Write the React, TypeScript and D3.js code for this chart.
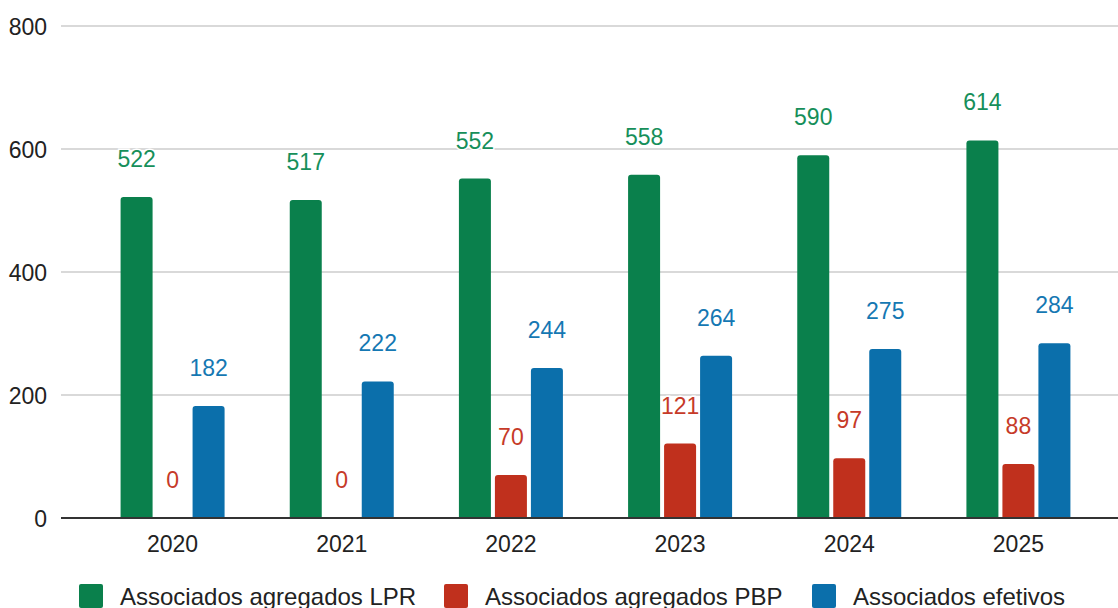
import React, { useRef, useEffect } from 'react';
import * as d3 from 'd3';

const years = ['2020', '2021', '2022', '2023', '2024', '2025'];
const seriesNames = ['Associados agregados LPR', 'Associados agregados PBP', 'Associados efetivos'];
const lpr = [522, 517, 552, 558, 590, 614];
const pbp = [0, 0, 70, 121, 97, 88];
const efetivos = [182, 222, 244, 264, 275, 284];
const yTicks = [0, 200, 400, 600, 800];

const barColors = ['#0a804c', '#c0301d', '#0b6fab'];
const labelColors = ['#168f5a', '#c63a28', '#1578b3'];

export default function App() {
  const svgRef = useRef<SVGSVGElement | null>(null);

  useEffect(() => {
    const width = 1118, height = 608;
    const svg = d3.select(svgRef.current);
    svg.selectAll('*').remove();

    const font = 'Liberation Sans, Arial, sans-serif';
    const values = [lpr, pbp, efetivos];

    const y = d3.scaleLinear().domain([0, 800]).range([518, 26]);
    const x0 = d3.scaleBand().domain(years).range([88, 1103]);
    const x1 = d3.scaleBand().domain(['0', '1', '2']).range([-52, 52]).paddingInner(0.111);

    // grid
    svg.append('g')
      .selectAll('line')
      .data(yTicks.filter(t => t > 0))
      .enter().append('line')
      .attr('x1', 61).attr('x2', width)
      .attr('y1', d => y(d)).attr('y2', d => y(d))
      .attr('stroke', '#cccccc').attr('stroke-width', 1.5);

    svg.append('g')
      .selectAll('text')
      .data(yTicks)
      .enter().append('text')
      .attr('x', 47).attr('y', d => y(d) + 9)
      .attr('text-anchor', 'end')
      .attr('font-family', font).attr('font-size', 23).attr('fill', '#222')
      .text(d => d);

    // bars
    values.forEach((vals, s) => {
      const g = svg.append('g');
      vals.forEach((v, i) => {
        const xl = x0(years[i])! + x0.bandwidth() / 2 + x1(String(s))!;
        const w = x1.bandwidth();
        const top = y(v), h = y(0) - top;
        if (h > 0) {
          const r = Math.min(3, h);
          const p = d3.path();
          p.moveTo(xl, y(0));
          p.lineTo(xl, top + r);
          p.quadraticCurveTo(xl, top, xl + r, top);
          p.lineTo(xl + w - r, top);
          p.quadraticCurveTo(xl + w, top, xl + w, top + r);
          p.lineTo(xl + w, y(0));
          p.closePath();
          g.append('path').attr('d', p.toString()).attr('fill', barColors[s]);
        }
        g.append('text')
          .attr('x', xl + w / 2).attr('y', top - 30)
          .attr('text-anchor', 'middle')
          .attr('font-family', font).attr('font-size', 23)
          .attr('fill', labelColors[s])
          .attr('stroke', '#fff').attr('stroke-width', 3).attr('paint-order', 'stroke')
          .text(v);
      });
    });

    // baseline
    svg.append('line')
      .attr('x1', 61).attr('x2', width)
      .attr('y1', y(0)).attr('y2', y(0))
      .attr('stroke', '#333').attr('stroke-width', 2);

    // x labels
    svg.append('g')
      .selectAll('text')
      .data(years)
      .enter().append('text')
      .attr('x', d => x0(d)! + x0.bandwidth() / 2)
      .attr('y', 552)
      .attr('text-anchor', 'middle')
      .attr('font-family', font).attr('font-size', 23).attr('fill', '#222')
      .text(d => d);

    // legend
    const legendX = [79, 444, 812];
    seriesNames.forEach((name, s) => {
      svg.append('rect')
        .attr('x', legendX[s]).attr('y', 584).attr('width', 24).attr('height', 24)
        .attr('rx', 2).attr('fill', barColors[s]);
      svg.append('text')
        .attr('x', legendX[s] + 41).attr('y', 605)
        .attr('font-family', font).attr('font-size', 24).attr('fill', '#222')
        .text(name);
    });
  }, []);

  return (
    <svg ref={svgRef} width={1118} height={608}
      style={{ position: 'absolute', left: 0, top: 0, background: '#fff' }} />
  );
}
